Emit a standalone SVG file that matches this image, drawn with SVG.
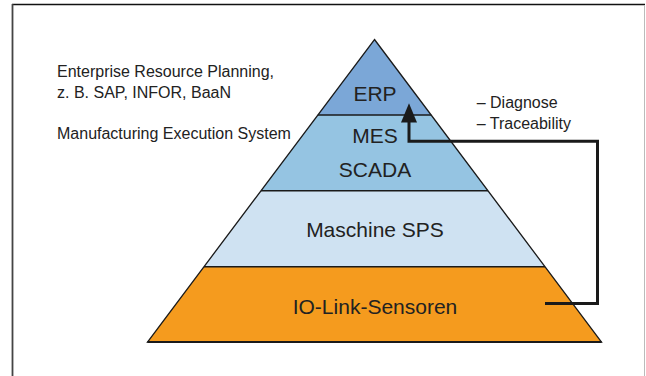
<svg xmlns="http://www.w3.org/2000/svg" width="646" height="376" viewBox="0 0 646 376">
<style>
.band{stroke:none}
.edge{fill:none;stroke:#1a1a1a;stroke-width:1.3;stroke-linejoin:miter}
.sep{stroke:#1a1a1a;stroke-width:1.6}
.big{font-family:"Liberation Sans",Arial,sans-serif;font-size:21px;fill:#222;text-anchor:middle}
.small{font-family:"Liberation Sans",Arial,sans-serif;font-size:16px;fill:#222}
.conn{fill:none;stroke:#1a1a1a;stroke-width:3;stroke-linejoin:miter}
</style>
<rect x="0" y="0" width="646" height="376" fill="#ffffff"/>
<g id="frame">
<line x1="12" y1="4.5" x2="645" y2="4.5" stroke="#111" stroke-width="1.5"/>
<line x1="12.5" y1="4" x2="12.5" y2="376" stroke="#444" stroke-width="1.8"/>
<line x1="644.5" y1="5" x2="644.5" y2="376" stroke="#bbb" stroke-width="1"/>
</g>
<g id="erp">
<polygon class="band" fill="#7ba7d7" points="374.5,39.5 431.15,115 317.85,115"/>
<text class="big" x="375" y="100.7">ERP</text>
</g>
<g id="mes-scada">
<polygon class="band" fill="#95c4e2" points="317.85,115 431.15,115 488,190.7 261,190.7"/>
<text class="big" x="375" y="143.3">MES</text>
<text class="big" x="375" y="177.3">SCADA</text>
</g>
<g id="maschine-sps">
<polygon class="band" fill="#cfe2f2" points="261,190.7 488,190.7 545,266.7 204,266.7"/>
<text class="big" x="375" y="236.5">Maschine SPS</text>
</g>
<g id="io-link-sensoren">
<polygon class="band" fill="#f59b1e" points="204,266.7 545,266.7 601.5,342 147.5,342"/>
<text class="big" x="375" y="313.5">IO-Link-Sensoren</text>
</g>
<g id="pyramid-lines">
<polygon class="edge" points="374.5,39.5 601.5,342 147.5,342"/>
<line class="sep" x1="317.85" y1="115" x2="431.15" y2="115"/>
<line class="sep" x1="261" y1="190.7" x2="488" y2="190.7"/>
<line class="sep" x1="204" y1="266.7" x2="545" y2="266.7"/>
<line x1="147.5" y1="342" x2="601.5" y2="342" stroke="#1a1a1a" stroke-width="2"/>
</g>
<g id="labels-left">
<text class="small" x="57" y="76.7">Enterprise Resource Planning,</text>
<text class="small" x="57" y="97.5">z. B. SAP, INFOR, BaaN</text>
<text class="small" x="57" y="139.3">Manufacturing Execution System</text>
</g>
<g id="labels-right">
<text class="small" x="476.7" y="107.7">– Diagnose</text>
<text class="small" x="476.7" y="129.3">– Traceability</text>
</g>
<g id="connectors">
<path class="conn" d="M545,303.5 H597.5 V141.3 H409 V120"/>
<polygon fill="#1a1a1a" points="409,103.3 417,122.5 401,122.5"/>
</g>
</svg>
